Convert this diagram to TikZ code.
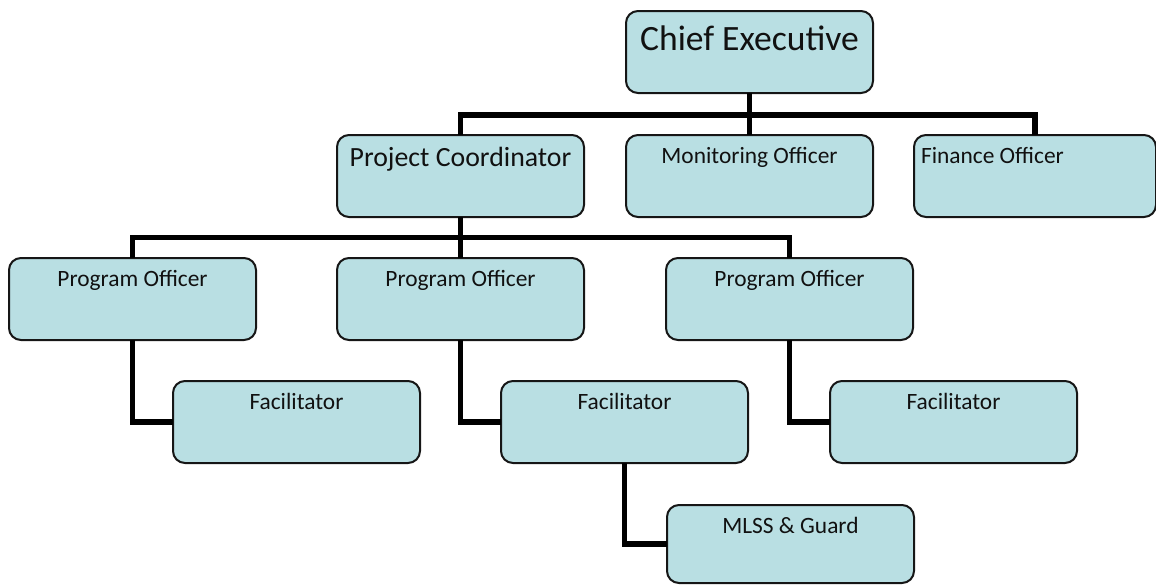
\documentclass[tikz,border=0pt]{standalone}
\usepackage{fontspec}
\setmainfont{Carlito}
\usepackage{xcolor}
\usepackage{tikz}
\usetikzlibrary{positioning}
\definecolor{orgfill}{HTML}{B9DFE3}
\definecolor{orgline}{HTML}{161616}
\definecolor{orgink}{HTML}{111111}

\begin{document}
\begin{tikzpicture}[
  unit/.style={draw=orgline,fill=orgfill,rounded corners=6pt,line width=1pt,
               minimum width=123.5pt,minimum height=41pt,inner ysep=0pt,
               outer sep=0pt,text height=14pt,text depth=27pt,text=orgink,
               font=\fontsize{11.7pt}{14pt}\selectfont},
  lead/.style={unit,text height=15.5pt,text depth=25.5pt,
               font=\fontsize{13.9pt}{16pt}\selectfont},
  head/.style={unit,text height=19.5pt,text depth=21.5pt,
               font=\fontsize{17.8pt}{21pt}\selectfont},
  link/.style={line width=2.6pt,black}
]
\useasboundingbox (0,0) rectangle (578pt,-292pt);

% top levels
\node[head] (ce) at (374.75pt,-26pt) {Chief Executive};
\node[unit,below=21pt of ce] (mo) {Monitoring Officer};
\node[lead,left=21pt of mo] (pc) {Project Coordinator};
\node[unit,right=20.5pt of mo,minimum width=121pt,text width=114pt,
      align=flush left,inner xsep=3.5pt] (fo) {Finance Officer};

% program officers
\node[unit,below=20.5pt of pc] (po2) {Program Officer};
\node[unit,left=40.5pt of po2] (po1) {Program Officer};
\node[unit,right=41pt of po2] (po3) {Program Officer};

% field staff
\node[unit,below=20.5pt of po1,xshift=82pt] (fac1) {Facilitator};
\node[unit,below=20.5pt of po2,xshift=82pt] (fac2) {Facilitator};
\node[unit,below=20.5pt of po3,xshift=82pt] (fac3) {Facilitator};
\node[unit,below=21pt of fac2,xshift=83pt,minimum height=39pt,
      text depth=25pt] (mlss) {MLSS \& Guard};

\draw[link] (ce.south) -- (mo.north);
\draw[link] (ce.south) -- ++(0,-11pt) -| (pc.north);
\draw[link] (ce.south) -- ++(0,-11pt) -| (fo.north);
\foreach \po in {po1,po2,po3}
  \draw[link] (pc.south) -- ++(0,-10.25pt) -| (\po.north);
\draw[link] (po1.south) |- (fac1.west);
\draw[link] (po2.south) |- (fac2.west);
\draw[link] (po3.south) |- (fac3.west);
\draw[link] (fac2.south) |- (mlss.west);
\end{tikzpicture}
\end{document}
